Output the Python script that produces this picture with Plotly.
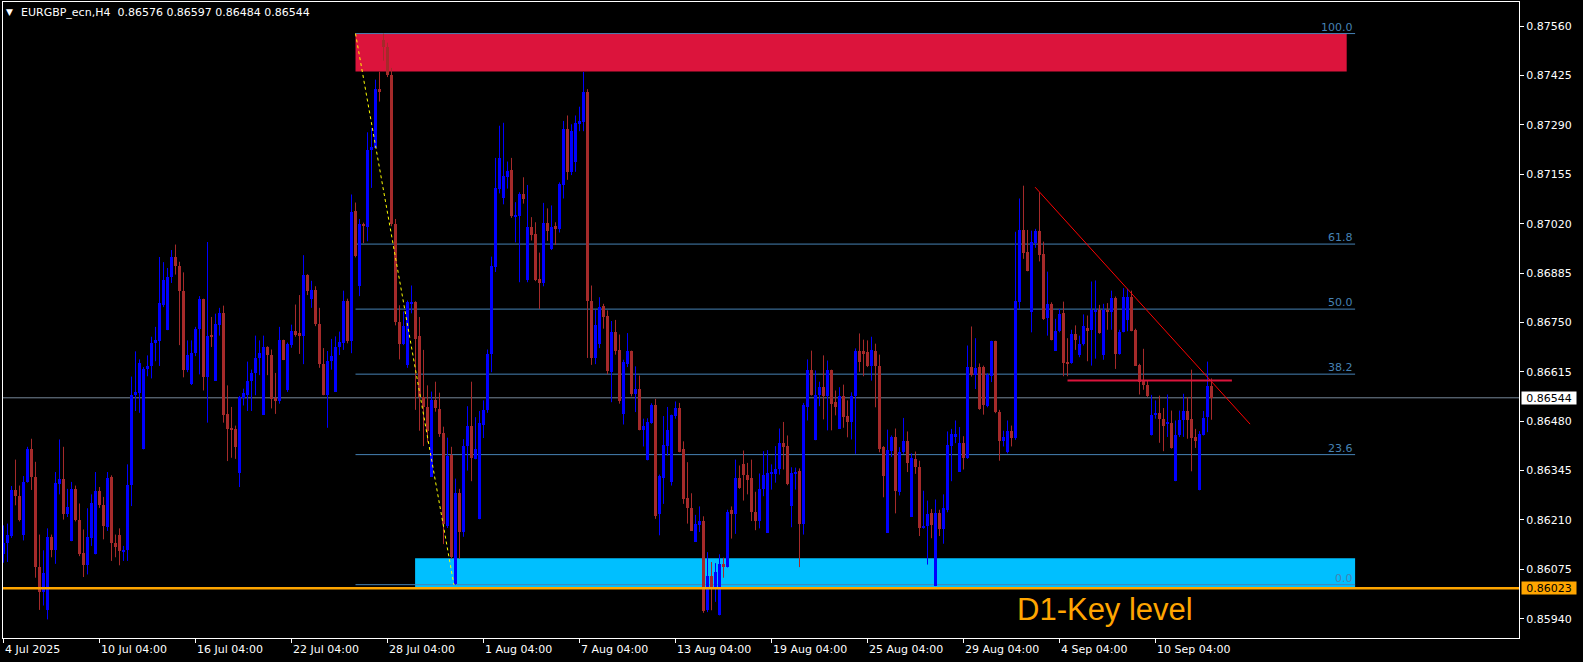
import plotly.graph_objects as go

# ---------------- data (EURGBP_ecn, H4) ----------------
OPEN = [
    0.86116, 0.86148, 0.86166, 0.86293, 0.86275, 0.86169, 0.86313, 0.86403, 0.86328, 0.86081,
    0.86013, 0.85965, 0.86164, 0.86129, 0.86307, 0.86321, 0.86225, 0.86152, 0.86295, 0.86211,
    0.86119, 0.86086, 0.86161, 0.86116, 0.86288, 0.86250, 0.86191, 0.86328, 0.86148, 0.86170,
    0.86122, 0.86128, 0.86306, 0.86551, 0.86558, 0.86405, 0.86623, 0.86631, 0.86694, 0.86699,
    0.86799, 0.86729, 0.86875, 0.86929, 0.86904, 0.86836, 0.86620, 0.86583, 0.86667, 0.86733,
    0.86813, 0.86600, 0.86714, 0.86590, 0.86744, 0.86776, 0.86501, 0.86462, 0.86460, 0.86339,
    0.86544, 0.86551, 0.86590, 0.86612, 0.86652, 0.86497, 0.86683, 0.86662, 0.86544, 0.86535,
    0.86701, 0.86564, 0.86688, 0.86728, 0.86722, 0.86712, 0.86879, 0.86815, 0.86839, 0.86745,
    0.86636, 0.86553, 0.86646, 0.86561, 0.86683, 0.86695, 0.86810, 0.86700, 0.87055, 0.86851,
    0.87020, 0.87011, 0.87222, 0.87227, 0.87389, 0.87523, 0.87503, 0.87426, 0.87018, 0.86750,
    0.86690, 0.86633, 0.86802, 0.86805, 0.86712, 0.86546, 0.86519, 0.86328, 0.86538, 0.86514,
    0.86447, 0.86193, 0.86387, 0.86036, 0.86285, 0.86177, 0.86413, 0.86468, 0.86378, 0.86212,
    0.86471, 0.86510, 0.86664, 0.86902, 0.87116, 0.87091, 0.87148, 0.87168, 0.87040, 0.87042,
    0.87102, 0.86867, 0.87011, 0.86992, 0.86870, 0.86859, 0.87022, 0.86950, 0.87013, 0.87006,
    0.87126, 0.87279, 0.87162, 0.87188, 0.87294, 0.87299, 0.87380, 0.86808, 0.86653, 0.86692,
    0.86794, 0.86769, 0.86614, 0.86725, 0.86676, 0.86500, 0.86637, 0.86671, 0.86555, 0.86567,
    0.86457, 0.86375, 0.86476, 0.86523, 0.86225, 0.86324, 0.86411, 0.86315, 0.86494, 0.86516,
    0.86403, 0.86269, 0.86244, 0.86150, 0.86195, 0.86206, 0.85963, 0.86056, 0.86027, 0.85949,
    0.86089, 0.86081, 0.86236, 0.86227, 0.86324, 0.86362, 0.86334, 0.86325, 0.86232, 0.86207,
    0.86295, 0.86175, 0.86337, 0.86337, 0.86348, 0.86421, 0.86412, 0.86248, 0.86337, 0.86345,
    0.86198, 0.86519, 0.86621, 0.86428, 0.86551, 0.86573, 0.86550, 0.86619, 0.86532, 0.86460,
    0.86550, 0.86494, 0.86477, 0.86548, 0.86671, 0.86673, 0.86669, 0.86630, 0.86673, 0.86632,
    0.86409, 0.86175, 0.86398, 0.86437, 0.86286, 0.86395, 0.86427, 0.86218, 0.86377, 0.86354,
    0.86188, 0.86193, 0.86228, 0.86029, 0.86229, 0.86184, 0.86238, 0.86413, 0.86436, 0.86342,
    0.86420, 0.86379, 0.86629, 0.86607, 0.86628, 0.86628, 0.86521, 0.86605, 0.86698, 0.86505,
    0.86425, 0.86397, 0.86454, 0.86434, 0.86807, 0.87003, 0.86942, 0.86780, 0.86967, 0.87001,
    0.86938, 0.86761, 0.86801, 0.86673, 0.86726, 0.86775, 0.86641, 0.86639, 0.86719, 0.86660,
    0.86690, 0.86735, 0.86730, 0.86780, 0.86783, 0.86660, 0.86783, 0.86780, 0.86816, 0.86664,
    0.86723, 0.86758, 0.86819, 0.86730, 0.86635, 0.86590, 0.86580, 0.86441, 0.86496, 0.86503,
    0.86485, 0.86473, 0.86475, 0.86316, 0.86441, 0.86482, 0.86509, 0.86485, 0.86437, 0.86291,
    0.86441, 0.86491, 0.86576,
]
HIGH = [
    0.86195, 0.86200, 0.86303, 0.86375, 0.86304, 0.86330, 0.86410, 0.86432, 0.86369, 0.86170,
    0.86127, 0.86187, 0.86170, 0.86341, 0.86430, 0.86410, 0.86295, 0.86314, 0.86304, 0.86255,
    0.86184, 0.86242, 0.86280, 0.86341, 0.86300, 0.86273, 0.86341, 0.86332, 0.86170, 0.86187,
    0.86139, 0.86362, 0.86602, 0.86671, 0.86649, 0.86628, 0.86660, 0.86711, 0.86738, 0.86929,
    0.86915, 0.86899, 0.86948, 0.86963, 0.86916, 0.86887, 0.86701, 0.86701, 0.86738, 0.86822,
    0.86815, 0.86970, 0.86765, 0.86774, 0.86790, 0.86796, 0.86578, 0.86519, 0.86468, 0.86549,
    0.86569, 0.86643, 0.86621, 0.86714, 0.86701, 0.86714, 0.86685, 0.86676, 0.86612, 0.86738,
    0.86703, 0.86695, 0.86744, 0.86799, 0.86825, 0.86934, 0.86882, 0.86864, 0.86849, 0.86790,
    0.86680, 0.86672, 0.86705, 0.86712, 0.86725, 0.86837, 0.86815, 0.87100, 0.87078, 0.87033,
    0.87023, 0.87270, 0.87282, 0.87414, 0.87436, 0.87540, 0.87515, 0.87446, 0.87033, 0.86797,
    0.86780, 0.86810, 0.86851, 0.86808, 0.86765, 0.86675, 0.86578, 0.86561, 0.86588, 0.86558,
    0.86465, 0.86435, 0.86410, 0.86323, 0.86295, 0.86431, 0.86521, 0.86588, 0.86491, 0.86508,
    0.86537, 0.86676, 0.86930, 0.87200, 0.87288, 0.87296, 0.87190, 0.87200, 0.87079, 0.87106,
    0.87147, 0.87126, 0.87038, 0.87024, 0.86941, 0.87077, 0.87062, 0.87070, 0.87024, 0.87133,
    0.87301, 0.87316, 0.87292, 0.87316, 0.87340, 0.87435, 0.87388, 0.86851, 0.86784, 0.86819,
    0.86801, 0.86783, 0.86754, 0.86757, 0.86717, 0.86648, 0.86721, 0.86673, 0.86630, 0.86605,
    0.86487, 0.86488, 0.86529, 0.86541, 0.86334, 0.86494, 0.86519, 0.86498, 0.86534, 0.86530,
    0.86425, 0.86368, 0.86283, 0.86224, 0.86247, 0.86220, 0.86122, 0.86095, 0.86092, 0.86116,
    0.86107, 0.86238, 0.86247, 0.86375, 0.86359, 0.86400, 0.86366, 0.86375, 0.86287, 0.86337,
    0.86398, 0.86401, 0.86362, 0.86412, 0.86460, 0.86478, 0.86441, 0.86354, 0.86353, 0.86351,
    0.86530, 0.86649, 0.86673, 0.86619, 0.86588, 0.86660, 0.86646, 0.86621, 0.86564, 0.86573,
    0.86580, 0.86537, 0.86559, 0.86679, 0.86720, 0.86703, 0.86701, 0.86711, 0.86692, 0.86662,
    0.86412, 0.86457, 0.86441, 0.86460, 0.86409, 0.86489, 0.86452, 0.86392, 0.86397, 0.86372,
    0.86290, 0.86263, 0.86240, 0.86266, 0.86238, 0.86280, 0.86452, 0.86459, 0.86482, 0.86464,
    0.86439, 0.86687, 0.86739, 0.86707, 0.86638, 0.86632, 0.86611, 0.86700, 0.86700, 0.86511,
    0.86454, 0.86482, 0.86468, 0.86998, 0.87089, 0.87124, 0.87003, 0.87001, 0.87006, 0.87106,
    0.86971, 0.86889, 0.86805, 0.86760, 0.86787, 0.86807, 0.86707, 0.86730, 0.86742, 0.86714,
    0.86772, 0.86769, 0.86862, 0.86865, 0.86798, 0.86801, 0.86803, 0.86837, 0.86821, 0.86730,
    0.86844, 0.86842, 0.86837, 0.86733, 0.86637, 0.86678, 0.86591, 0.86552, 0.86537, 0.86550,
    0.86516, 0.86553, 0.86509, 0.86482, 0.86509, 0.86555, 0.86546, 0.86621, 0.86459, 0.86453,
    0.86508, 0.86643, 0.86597,
]
LOW = [
    0.86093, 0.86095, 0.86161, 0.86250, 0.86206, 0.86154, 0.86312, 0.86292, 0.86052, 0.85964,
    0.85976, 0.85938, 0.86108, 0.86090, 0.86280, 0.86211, 0.86218, 0.86152, 0.86206, 0.86111,
    0.86054, 0.86061, 0.86139, 0.86116, 0.86243, 0.86157, 0.86180, 0.86098, 0.86108, 0.86086,
    0.86098, 0.86098, 0.86248, 0.86508, 0.86503, 0.86403, 0.86603, 0.86597, 0.86644, 0.86631,
    0.86792, 0.86729, 0.86858, 0.86881, 0.86688, 0.86600, 0.86614, 0.86579, 0.86658, 0.86608,
    0.86564, 0.86476, 0.86683, 0.86590, 0.86714, 0.86476, 0.86371, 0.86380, 0.86377, 0.86300,
    0.86523, 0.86508, 0.86508, 0.86551, 0.86606, 0.86497, 0.86606, 0.86515, 0.86500, 0.86528,
    0.86647, 0.86560, 0.86681, 0.86711, 0.86664, 0.86636, 0.86825, 0.86790, 0.86740, 0.86626,
    0.86551, 0.86462, 0.86621, 0.86561, 0.86661, 0.86675, 0.86693, 0.86666, 0.86928, 0.86822,
    0.86967, 0.86972, 0.87118, 0.87227, 0.87354, 0.87466, 0.87421, 0.87013, 0.86742, 0.86649,
    0.86688, 0.86626, 0.86775, 0.86511, 0.86454, 0.86412, 0.86422, 0.86328, 0.86506, 0.86437,
    0.86144, 0.86188, 0.86104, 0.86033, 0.86104, 0.86164, 0.86345, 0.86316, 0.86376, 0.86212,
    0.86434, 0.86503, 0.86614, 0.86888, 0.87103, 0.87073, 0.87116, 0.87036, 0.86969, 0.86860,
    0.87075, 0.86860, 0.86974, 0.86863, 0.86787, 0.86849, 0.86973, 0.86948, 0.86962, 0.86996,
    0.87089, 0.87140, 0.87153, 0.87162, 0.87273, 0.87273, 0.86653, 0.86634, 0.86636, 0.86680,
    0.86733, 0.86608, 0.86532, 0.86662, 0.86528, 0.86471, 0.86628, 0.86548, 0.86505, 0.86455,
    0.86411, 0.86373, 0.86473, 0.86213, 0.86168, 0.86254, 0.86386, 0.86304, 0.86487, 0.86395,
    0.86254, 0.86200, 0.86180, 0.86150, 0.86177, 0.85956, 0.85958, 0.85963, 0.85986, 0.85949,
    0.86052, 0.86080, 0.86159, 0.86172, 0.86295, 0.86263, 0.86280, 0.86207, 0.86182, 0.86187,
    0.86275, 0.86175, 0.86293, 0.86312, 0.86334, 0.86348, 0.86305, 0.86190, 0.86293, 0.86081,
    0.86170, 0.86482, 0.86550, 0.86428, 0.86521, 0.86485, 0.86455, 0.86455, 0.86496, 0.86460,
    0.86462, 0.86436, 0.86430, 0.86391, 0.86615, 0.86603, 0.86628, 0.86591, 0.86518, 0.86395,
    0.86272, 0.86175, 0.86382, 0.86228, 0.86277, 0.86391, 0.86341, 0.86218, 0.86336, 0.86166,
    0.86186, 0.86088, 0.86160, 0.86029, 0.86166, 0.86145, 0.86231, 0.86316, 0.86420, 0.86342,
    0.86348, 0.86377, 0.86602, 0.86568, 0.86511, 0.86498, 0.86518, 0.86587, 0.86502, 0.86372,
    0.86411, 0.86392, 0.86411, 0.86429, 0.86787, 0.86924, 0.86890, 0.86723, 0.86954, 0.86917,
    0.86757, 0.86714, 0.86701, 0.86673, 0.86723, 0.86603, 0.86603, 0.86637, 0.86675, 0.86655,
    0.86687, 0.86644, 0.86632, 0.86651, 0.86719, 0.86648, 0.86730, 0.86730, 0.86623, 0.86662,
    0.86723, 0.86726, 0.86726, 0.86631, 0.86553, 0.86566, 0.86546, 0.86441, 0.86487, 0.86421,
    0.86398, 0.86437, 0.86405, 0.86316, 0.86437, 0.86437, 0.86432, 0.86343, 0.86407, 0.86291,
    0.86441, 0.86450, 0.86484,
]
CLOSE = [
    0.86148, 0.86168, 0.86293, 0.86275, 0.86209, 0.86314, 0.86403, 0.86328, 0.86081, 0.86013,
    0.86064, 0.86164, 0.86129, 0.86310, 0.86321, 0.86225, 0.86246, 0.86295, 0.86209, 0.86116,
    0.86086, 0.86164, 0.86257, 0.86288, 0.86250, 0.86193, 0.86325, 0.86148, 0.86136, 0.86125,
    0.86129, 0.86306, 0.86551, 0.86560, 0.86640, 0.86623, 0.86632, 0.86694, 0.86701, 0.86802,
    0.86867, 0.86875, 0.86929, 0.86904, 0.86836, 0.86620, 0.86660, 0.86667, 0.86733, 0.86813,
    0.86600, 0.86714, 0.86711, 0.86746, 0.86776, 0.86498, 0.86460, 0.86457, 0.86409, 0.86546,
    0.86556, 0.86591, 0.86612, 0.86654, 0.86667, 0.86682, 0.86660, 0.86542, 0.86535, 0.86701,
    0.86647, 0.86690, 0.86728, 0.86717, 0.86712, 0.86879, 0.86837, 0.86839, 0.86745, 0.86636,
    0.86553, 0.86646, 0.86658, 0.86683, 0.86697, 0.86810, 0.86700, 0.87053, 0.86931, 0.87020,
    0.87015, 0.87222, 0.87229, 0.87389, 0.87379, 0.87503, 0.87426, 0.87018, 0.86750, 0.86692,
    0.86740, 0.86805, 0.86807, 0.86705, 0.86546, 0.86519, 0.86452, 0.86538, 0.86516, 0.86444,
    0.86198, 0.86385, 0.86108, 0.86285, 0.86177, 0.86413, 0.86468, 0.86380, 0.86405, 0.86476,
    0.86511, 0.86665, 0.86904, 0.87117, 0.87199, 0.87151, 0.87165, 0.87042, 0.87042, 0.87102,
    0.87088, 0.87011, 0.86990, 0.86867, 0.86859, 0.87022, 0.87001, 0.87011, 0.87006, 0.87128,
    0.87279, 0.87162, 0.87273, 0.87296, 0.87301, 0.87380, 0.86808, 0.86653, 0.86742, 0.86793,
    0.86766, 0.86617, 0.86725, 0.86673, 0.86535, 0.86642, 0.86671, 0.86555, 0.86567, 0.86457,
    0.86468, 0.86479, 0.86523, 0.86222, 0.86330, 0.86414, 0.86455, 0.86496, 0.86516, 0.86397,
    0.86266, 0.86243, 0.86181, 0.86198, 0.86206, 0.85960, 0.86056, 0.86025, 0.86069, 0.86089,
    0.86081, 0.86233, 0.86227, 0.86324, 0.86297, 0.86332, 0.86318, 0.86231, 0.86207, 0.86295,
    0.86332, 0.86339, 0.86339, 0.86350, 0.86421, 0.86409, 0.86307, 0.86339, 0.86342, 0.86200,
    0.86523, 0.86621, 0.86553, 0.86553, 0.86573, 0.86550, 0.86621, 0.86528, 0.86519, 0.86550,
    0.86491, 0.86477, 0.86550, 0.86671, 0.86641, 0.86665, 0.86630, 0.86676, 0.86630, 0.86405,
    0.86330, 0.86400, 0.86436, 0.86289, 0.86395, 0.86427, 0.86365, 0.86379, 0.86354, 0.86188,
    0.86192, 0.86227, 0.86197, 0.86229, 0.86184, 0.86242, 0.86416, 0.86444, 0.86444, 0.86421,
    0.86379, 0.86628, 0.86607, 0.86625, 0.86514, 0.86523, 0.86607, 0.86698, 0.86505, 0.86425,
    0.86436, 0.86454, 0.86433, 0.86810, 0.87003, 0.86939, 0.86892, 0.86969, 0.87001, 0.86935,
    0.86760, 0.86801, 0.86703, 0.86728, 0.86772, 0.86639, 0.86639, 0.86719, 0.86701, 0.86690,
    0.86739, 0.86728, 0.86783, 0.86783, 0.86721, 0.86783, 0.86780, 0.86816, 0.86664, 0.86725,
    0.86821, 0.86819, 0.86728, 0.86632, 0.86587, 0.86578, 0.86548, 0.86498, 0.86503, 0.86485,
    0.86468, 0.86475, 0.86406, 0.86441, 0.86484, 0.86509, 0.86482, 0.86434, 0.86425, 0.86444,
    0.86489, 0.86576, 0.86544,
]

DATE_LABELS = ["4 Jul 2025", "10 Jul 04:00", "16 Jul 04:00", "22 Jul 04:00", "28 Jul 04:00",
               "1 Aug 04:00", "7 Aug 04:00", "13 Aug 04:00", "19 Aug 04:00", "25 Aug 04:00",
               "29 Aug 04:00", "4 Sep 04:00", "10 Sep 04:00"]
DATE_LABEL_BARS = [0, 24, 48, 72, 96, 120, 144, 168, 192, 216, 240, 264, 288]
PRICE_TICKS = [0.87560, 0.87425, 0.87290, 0.87155, 0.87020, 0.86885, 0.86750,
               0.86615, 0.86480, 0.86345, 0.86210, 0.86075, 0.85940]

SYMBOL = "EURGBP_ecn,H4"
FIB_HIGH = 0.87540
FIB_LOW = 0.86033
FIB_LEVELS = [100.0, 61.8, 50.0, 38.2, 23.6, 0.0]
FIB_BARS = (88.0, 337.9)
FIB_SWING_BARS = (88.0, 112.6)
SUPPLY_ZONE = dict(bars=(88.0, 335.8), prices=(0.87436, 0.87541))
DEMAND_ZONE = dict(bars=(102.9, 337.9), prices=(0.86025, 0.86105))
KEY_LEVEL = 0.86023
CURRENT_PRICE = 0.86544
TRENDLINE = dict(bars=(257.9, 311.65), prices=(0.87120, 0.86472))
SUPPORT_LINE = dict(bars=(266.0, 307.1), price=0.86591)
KEY_LABEL = dict(text="D1-Key level", bar=252.9, price=0.85966)

# ---------------- styling ----------------
BULL = "#0000FF"
BEAR = "#A52A2A"
FIB_COLOR = "#4682B4"
FONT = "DejaVu Sans"
Y_RANGE = [0.858872, 0.876263]
X_RANGE = [-0.125, 378.875]

n = len(OPEN)
bars = list(range(n))
bull = [i for i in bars if CLOSE[i] >= OPEN[i]]
bear = [i for i in bars if CLOSE[i] < OPEN[i]]


def wick_trace(ids, color):
    xs, ys = [], []
    for i in ids:
        xs += [i, i, None]
        ys += [min(LOW[i], OPEN[i], CLOSE[i]), max(HIGH[i], OPEN[i], CLOSE[i]), None]
    return go.Scatter(x=xs, y=ys, mode="lines", line=dict(color=color, width=1),
                      hoverinfo="skip", showlegend=False)


def body_trace(ids, color):
    return go.Bar(
        x=ids,
        y=[max(abs(CLOSE[i] - OPEN[i]), 0.00003) for i in ids],
        base=[min(OPEN[i], CLOSE[i]) for i in ids],
        width=0.75,
        marker=dict(color=color, line=dict(width=0)),
        hoverinfo="skip", showlegend=False,
    )


fig = go.Figure()
fig.add_trace(wick_trace(bull, BULL))
fig.add_trace(wick_trace(bear, BEAR))
fig.add_trace(body_trace(bull, BULL))
fig.add_trace(body_trace(bear, BEAR))

shapes = []
for zone, col in ((SUPPLY_ZONE, "#DC143C"), (DEMAND_ZONE, "#00BFFF")):
    shapes.append(dict(type="rect", xref="x", yref="y", x0=zone["bars"][0], x1=zone["bars"][1],
                       y0=zone["prices"][0], y1=zone["prices"][1], fillcolor=col,
                       line=dict(width=0), layer="below"))
annotations = []
for lvl in FIB_LEVELS:
    p = FIB_LOW + (FIB_HIGH - FIB_LOW) * lvl / 100.0
    shapes.append(dict(type="line", xref="x", yref="y", x0=FIB_BARS[0], x1=FIB_BARS[1],
                       y0=p, y1=p, line=dict(color=FIB_COLOR, width=1), layer="below"))
    annotations.append(dict(x=FIB_BARS[1], y=p, xref="x", yref="y", text=f"{lvl:.1f}",
                            showarrow=False, xanchor="right", yanchor="bottom", yshift=-2,
                            font=dict(family=FONT, size=11, color=FIB_COLOR)))
shapes.append(dict(type="line", xref="paper", yref="y", x0=0, x1=1, y0=CURRENT_PRICE,
                   y1=CURRENT_PRICE, line=dict(color="#778899", width=1), layer="below"))
shapes.append(dict(type="line", xref="paper", yref="y", x0=0, x1=1, y0=KEY_LEVEL, y1=KEY_LEVEL,
                   line=dict(color="#FFA500", width=2.5), layer="above"))
shapes.append(dict(type="line", xref="x", yref="y", x0=FIB_SWING_BARS[0], x1=FIB_SWING_BARS[1],
                   y0=FIB_HIGH, y1=FIB_LOW, line=dict(color="#FFFF00", width=1, dash="dot"),
                   layer="above"))
shapes.append(dict(type="line", xref="x", yref="y", x0=TRENDLINE["bars"][0], x1=TRENDLINE["bars"][1],
                   y0=TRENDLINE["prices"][0], y1=TRENDLINE["prices"][1],
                   line=dict(color="#FF0000", width=1), layer="above"))
shapes.append(dict(type="line", xref="x", yref="y", x0=SUPPORT_LINE["bars"][0],
                   x1=SUPPORT_LINE["bars"][1], y0=SUPPORT_LINE["price"], y1=SUPPORT_LINE["price"],
                   line=dict(color="#DC143C", width=2), layer="above"))

for b, t in zip(DATE_LABEL_BARS, DATE_LABELS):
    annotations.append(dict(x=b, y=0, xref="x", yref="paper", text=t, showarrow=False,
                            xanchor="left", yanchor="top", xshift=-1, yshift=-3,
                            font=dict(family=FONT, size=11, color="white")))
for price, bg in ((CURRENT_PRICE, "white"), (KEY_LEVEL, "#FFA500")):
    annotations.append(dict(x=1, y=price, xref="paper", yref="y", text=f"{price:.5f}",
                            showarrow=False, xanchor="left", yanchor="middle", xshift=2,
                            width=54, height=12, borderpad=0, bgcolor=bg, align="center",
                            font=dict(family=FONT, size=11, color="black")))
annotations.append(dict(x=0, y=1, xref="paper", yref="paper", text="\u25BC", showarrow=False,
                        xanchor="left", yanchor="middle", xshift=1, yshift=-10,
                        font=dict(family=FONT, size=9, color="white")))
annotations.append(dict(x=0, y=1, xref="paper", yref="paper",
                        text=f"{SYMBOL}\u00a0\u00a0{OPEN[-1]:.5f} {HIGH[-1]:.5f} {LOW[-1]:.5f} {CLOSE[-1]:.5f}",
                        showarrow=False, xanchor="left", yanchor="middle", xshift=16, yshift=-10,
                        font=dict(family=FONT, size=11, color="white")))
annotations.append(dict(x=KEY_LABEL["bar"], y=KEY_LABEL["price"], xref="x", yref="y",
                        text=KEY_LABEL["text"], showarrow=False, xanchor="left", yanchor="middle",
                        font=dict(family="Liberation Sans", size=31, color="#FFA500")))

fig.update_layout(
    width=1583, height=662,
    paper_bgcolor="black", plot_bgcolor="black",
    margin=dict(l=3, r=64, t=2, b=24, pad=0),
    showlegend=False, barmode="overlay", bargap=0,
    shapes=shapes, annotations=annotations,
    xaxis=dict(range=X_RANGE, showgrid=False, zeroline=False, showline=True, linecolor="white",
               linewidth=1, mirror=True, ticks="outside", ticklen=4, tickcolor="white",
               tickvals=DATE_LABEL_BARS, showticklabels=False, fixedrange=True, automargin=False),
    yaxis=dict(range=Y_RANGE, side="right", showgrid=False, zeroline=False, showline=True,
               linecolor="white", linewidth=1, mirror=True, ticks="outside", ticklen=4,
               tickcolor="white", tickvals=PRICE_TICKS,
               ticktext=[f"{v:.5f}" for v in PRICE_TICKS],
               tickfont=dict(family=FONT, size=11, color="white"), fixedrange=True,
               automargin=False),
)

fig.write_html(
    "out.html",
    include_plotlyjs=True,
    config={"displayModeBar": False},
    post_script="document.body.style.margin='0';document.body.style.padding='0';"
                "document.body.style.overflow='hidden';document.body.style.background='black';",
)
